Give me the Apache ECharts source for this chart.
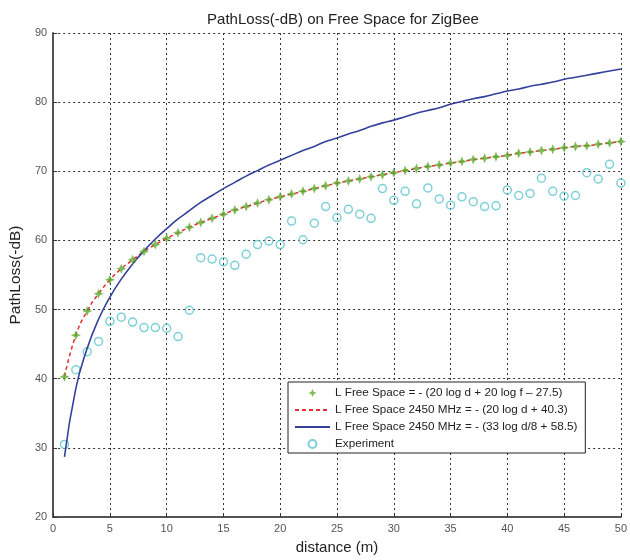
<!DOCTYPE html>
<html>
<head>
<meta charset="utf-8">
<script src="https://cdn.jsdelivr.net/npm/echarts@6/dist/echarts.min.js"></script>
<style>
  html, body { margin: 0; padding: 0; background: #fff; }
  #chart { width: 630px; height: 560px; }
</style>
</head>
<body>
<div id="chart"></div>
<script>
// distance in metres
var distance = [1,2,3,4,5,6,7,8,9,10,11,12,13,14,15,16,17,18,19,20,21,22,23,24,25,
  26,27,28,29,30,31,32,33,34,35,36,37,38,39,40,41,42,43,44,45,46,47,48,49,50];

// L Free Space (green markers) and the 2450 MHz dashed curve share the same values
var freeSpace = [40.3,46.3,49.8,52.3,54.3,55.9,57.2,58.4,59.4,60.3,61.1,61.9,62.6,63.2,63.8,
  64.4,64.9,65.4,65.9,66.3,66.7,67.1,67.5,67.9,68.3,68.6,68.9,69.2,69.5,69.8,
  70.1,70.4,70.7,70.9,71.2,71.4,71.7,71.9,72.1,72.3,72.6,72.8,73.0,73.2,73.4,
  73.6,73.7,73.9,74.1,74.3];

var freeSpace2450 = [40.3,46.3,49.8,52.3,54.3,55.9,57.2,58.4,59.4,60.3,61.1,61.9,62.6,63.2,63.8,
  64.4,64.9,65.4,65.9,66.3,66.7,67.1,67.5,67.9,68.3,68.6,68.9,69.2,69.5,69.8,
  70.1,70.4,70.7,70.9,71.2,71.4,71.7,71.9,72.1,72.3,72.6,72.8,73.0,73.2,73.4,
  73.6,73.7,73.9,74.1,74.3];

var model33 = [28.7,38.6,44.4,48.6,51.8,54.4,56.6,58.5,60.2,61.7,63.1,64.3,65.5,66.5,67.5,
  68.4,69.3,70.1,70.9,71.6,72.3,73.0,73.6,74.3,74.8,75.4,75.9,76.5,77.0,77.4,
  77.9,78.4,78.8,79.2,79.7,80.1,80.5,80.8,81.2,81.6,81.9,82.3,82.6,82.9,83.3,
  83.6,83.9,84.2,84.5,84.8];

var experiment = [30.5,41.3,43.9,45.4,48.3,48.9,48.2,47.4,47.4,47.3,46.1,49.9,57.5,57.3,56.9,
  56.4,58.0,59.4,59.9,59.4,62.8,60.1,62.5,64.9,63.3,64.5,63.8,63.2,67.5,65.8,
  67.1,65.3,67.6,66.0,65.1,66.3,65.6,64.9,65.0,67.3,66.5,66.8,69.0,67.1,66.4,
  66.5,69.8,68.9,71.0,68.3];

var legendNames = [
  'L Free Space = - (20 log d + 20 log f \u2013 27.5)',
  'L Free Space 2450 MHz = - (20 log d + 40.3)',
  'L Free Space 2450 MHz = - (33 log d/8 + 58.5)',
  'Experiment'
];

function pairs(ys) {
  var out = [];
  for (var i = 0; i < distance.length; i++) out.push([distance[i], ys[i]]);
  return out;
}

var star = 'path://M0,-5 L1.5,-1.5 L5,0 L1.5,1.5 L0,5 L-1.5,1.5 L-5,0 L-1.5,-1.5 Z';
var font = 'Liberation Sans, Arial, sans-serif';

var chart = echarts.init(document.getElementById('chart'));
chart.setOption({
  animation: false,
  backgroundColor: '#fff',
  title: {
    text: 'PathLoss(-dB) on Free Space for ZigBee',
    left: 338, textAlign: 'center', top: 7,
    textStyle: { fontFamily: font, fontSize: 15, fontWeight: 'normal', color: '#222' }
  },
  grid: { left: 49, right: 3, top: 33, bottom: 37 },
  legend: {
    orient: 'vertical',
    left: 288, top: 382,
    padding: [5, 8, 3, 6],
    itemGap: 5,
    itemWidth: 35,
    itemHeight: 8,
    backgroundColor: '#fff',
    borderColor: '#222',
    borderWidth: 1,
    textStyle: { fontFamily: font, fontSize: 11.7, color: '#222' },
    data: [
      { name: legendNames[0] },
      { name: legendNames[1], itemStyle: { opacity: 0 } },
      { name: legendNames[2], itemStyle: { opacity: 0 } },
      { name: legendNames[3] }
    ]
  },
  xAxis: {
    type: 'value', min: 0, max: 50, interval: 5,
    name: 'distance (m)', nameLocation: 'middle', nameGap: 23,
    nameTextStyle: { fontFamily: font, fontSize: 15, color: '#222' },
    axisLine: { lineStyle: { color: '#555', width: 2 } },
    axisTick: { inside: true, length: 4, lineStyle: { color: '#333' } },
    axisLabel: { fontFamily: font, fontSize: 11, color: '#555', margin: 6 },
    splitLine: { show: true, lineStyle: { color: '#333', type: [2, 3], width: 1 } }
  },
  yAxis: {
    type: 'value', min: 20, max: 90, interval: 10,
    name: 'PathLoss(-dB)', nameLocation: 'middle', nameGap: 27,
    nameTextStyle: { fontFamily: font, fontSize: 15.5, color: '#222' },
    axisLine: { show: true, lineStyle: { color: '#555', width: 2 } },
    axisTick: { show: true, inside: true, length: 4, lineStyle: { color: '#333' } },
    axisLabel: { fontFamily: font, fontSize: 11, color: '#555', margin: 6 },
    splitLine: { show: true, lineStyle: { color: '#333', type: [2, 3], width: 1 } }
  },
  series: [
    {
      name: legendNames[0], type: 'scatter', data: pairs(freeSpace),
      symbol: star, symbolSize: 10, z: 4,
      itemStyle: { color: '#5dab2e' }
    },
    {
      name: legendNames[1], type: 'line', data: pairs(freeSpace2450),
      showSymbol: false, symbol: 'none', smooth: true, z: 3,
      lineStyle: { color: '#e03030', width: 1.5, type: [4, 3] },
      itemStyle: { color: '#e03030' }
    },
    {
      name: legendNames[2], type: 'line', data: pairs(model33),
      showSymbol: false, symbol: 'none', smooth: true, z: 3,
      lineStyle: { color: '#34409a', width: 1.6 },
      itemStyle: { color: '#34409a' }
    },
    {
      name: legendNames[3], type: 'scatter', data: pairs(experiment),
      symbol: 'circle', symbolSize: 8, z: 2,
      itemStyle: { color: 'rgba(0,0,0,0)', borderColor: '#5cc4ce', borderWidth: 1.5 }
    }
  ]
});
</script>
</body>
</html>
